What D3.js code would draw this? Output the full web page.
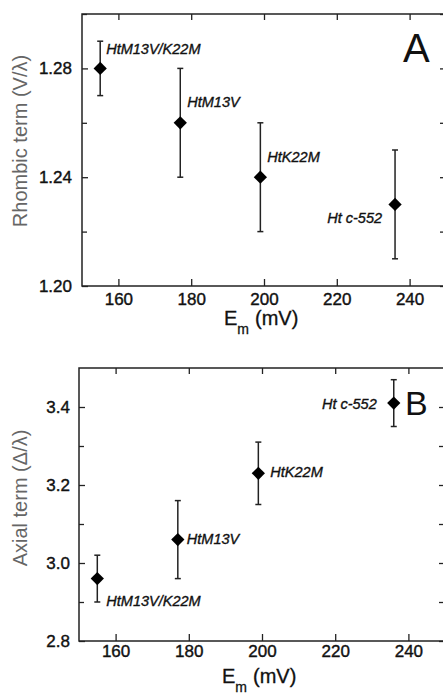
<!DOCTYPE html>
<html lang="en">
<meta charset="utf-8">
<script src="https://cdn.jsdelivr.net/npm/d3@7"></script>
<style type="text/css">
    body { margin: 0; background-color: #ffffff; }
    svg { display: block; font-family: "Liberation Sans", Arial, sans-serif; }
    .axis path { display: none; }
    .axis line { stroke: #222; stroke-width: 1.3px; }
    .axis text { font-size: 17px; fill: #111; stroke: #111; stroke-width: 0.4px; }
    .frame { fill: none; stroke: #222; stroke-width: 1.5px; }
    .err { stroke: #222; stroke-width: 1.5px; }
    .ytitle { font-size: 20px; fill: #666; }
    .xtitle { font-size: 20px; fill: #111; stroke: #111; stroke-width: 0.3px; }
    .ptlabel { font-size: 14.5px; font-style: italic; fill: #111; stroke: #111; stroke-width: 0.35px; }
    .panel { fill: #111; }
</style>
<body>
<script type="text/javascript">
// data
var emValues = [155, 177, 199, 236];          // E_m (mV)
var names = ["M13V/K22M", "M13V", "K22M", " c-552"];

var rhombic = [1.28, 1.26, 1.24, 1.23];
var rhombicLow = [1.27, 1.24, 1.22, 1.21];
var rhombicHigh = [1.29, 1.28, 1.26, 1.25];

var axial = [2.96, 3.06, 3.23, 3.41];
var axialLow = [2.90, 2.96, 3.15, 3.35];
var axialHigh = [3.02, 3.16, 3.31, 3.47];

var xTicks = [160, 180, 200, 220, 240];
var rhombicTicks = [1.20, 1.24, 1.28];
var rhombicMinor = [1.22, 1.26, 1.30];
var axialTicks = [2.8, 3.0, 3.2, 3.4];
var axialMinor = [2.9, 3.1, 3.3];

var width = 443, height = 694;

var svg = d3.select("body").append("svg")
    .attr("width", width)
    .attr("height", height);

// panel layout (pixel boxes, label offsets)
var panels = [
    {
        letter: "A", ytitle: "Rhombic term (V/\u03bb)",
        left: 82, right: 446, top: 14, bottom: 286,
        ydom: [1.20, 1.30], ymaj: rhombicTicks, ymin: rhombicMinor, fmt: ".2f",
        vals: rhombic, lo: rhombicLow, hi: rhombicHigh,
        xpad: 7, ypad: 10, titleY: 141, xtitleBase: 325, letterPos: [403, 62], letterSize: 40,
        lab: [[6, -14, "start"], [7, -16, "start"], [7, -15, "start"], [-13, 19, "end"]]
    },
    {
        letter: "B", ytitle: "Axial term (\u0394/\u03bb)",
        left: 79, right: 445, top: 368, bottom: 641,
        ydom: [2.8, 3.5], ymaj: axialTicks, ymin: axialMinor, fmt: ".1f",
        vals: axial, lo: axialLow, hi: axialHigh,
        xpad: 4, ypad: 9, titleY: 498, xtitleBase: 683, letterPos: [405, 415], letterSize: 34,
        lab: [[9, 27, "start"], [9, 4, "start"], [12, 4, "start"], [-17, 6, "end"]]
    }
];

panels.forEach(function(p) {
    var x = d3.scaleLinear().domain([150, 250]).range([p.left, p.right]);
    var y = d3.scaleLinear().domain(p.ydom).range([p.bottom, p.top]);
    var g = svg.append("g");

    // ticks, all pointing inward
    g.append("g").attr("class", "axis")
        .attr("transform", "translate(0," + p.bottom + ")")
        .call(d3.axisBottom(x).tickValues(xTicks).tickSize(-7).tickPadding(p.xpad));
    g.append("g").attr("class", "axis")
        .attr("transform", "translate(0," + p.top + ")")
        .call(d3.axisTop(x).tickValues(xTicks).tickSize(-6).tickFormat(""));
    g.append("g").attr("class", "axis")
        .attr("transform", "translate(" + p.left + ",0)")
        .call(d3.axisLeft(y).tickValues(p.ymaj).tickSize(-6).tickPadding(p.ypad).tickFormat(d3.format(p.fmt)));
    g.append("g").attr("class", "axis")
        .attr("transform", "translate(" + p.left + ",0)")
        .call(d3.axisLeft(y).tickValues(p.ymin).tickSize(-5).tickFormat(""));
    g.append("g").attr("class", "axis")
        .attr("transform", "translate(" + p.right + ",0)")
        .call(d3.axisRight(y).tickValues(p.ymaj.concat(p.ymin)).tickSize(-6).tickFormat(""));

    g.append("rect").attr("class", "frame")
        .attr("x", p.left).attr("y", p.top)
        .attr("width", p.right - p.left).attr("height", p.bottom - p.top);

    // error bars
    var idx = d3.range(emValues.length);
    var eb = g.selectAll(".eb").data(idx).enter().append("g");
    eb.append("line").attr("class", "err")
        .attr("x1", function(i){ return x(emValues[i]); })
        .attr("x2", function(i){ return x(emValues[i]); })
        .attr("y1", function(i){ return y(p.lo[i]); })
        .attr("y2", function(i){ return y(p.hi[i]); });
    [p.lo, p.hi].forEach(function(arr) {
        eb.append("line").attr("class", "err")
            .attr("x1", function(i){ return x(emValues[i]) - 3; })
            .attr("x2", function(i){ return x(emValues[i]) + 3; })
            .attr("y1", function(i){ return y(arr[i]); })
            .attr("y2", function(i){ return y(arr[i]); });
    });

    // diamond markers
    g.selectAll(".pt").data(idx).enter().append("path")
        .attr("d", d3.symbol().type(d3.symbolSquare).size(88))
        .attr("transform", function(i){
            return "translate(" + x(emValues[i]) + "," + y(p.vals[i]) + ") rotate(45)";
        })
        .style("fill", "#000");

    // point labels
    var t = g.selectAll(".ptlabel").data(idx).enter().append("text")
        .attr("class", "ptlabel")
        .attr("x", function(i){ return x(emValues[i]) + p.lab[i][0]; })
        .attr("y", function(i){ return y(p.vals[i]) + p.lab[i][1]; })
        .attr("text-anchor", function(i){ return p.lab[i][2]; });
    t.append("tspan").text("Ht");
    t.append("tspan").text(function(i){ return names[i]; });

    // y title
    var cx = 27;
    g.append("text").attr("class", "ytitle")
        .attr("transform", "translate(" + cx + "," + p.titleY + ") rotate(-90)")
        .attr("text-anchor", "middle")
        .text(p.ytitle);

    // x title: E_m (mV)
    var xt = g.append("text").attr("class", "xtitle")
        .attr("x", (p.left + p.right) / 2 - 40)
        .attr("y", p.xtitleBase);
    xt.append("tspan").text("E");
    xt.append("tspan").attr("dy", 9).style("font-size", "14px").text("m");
    xt.append("tspan").attr("dy", -9).attr("dx", 6).text("(mV)");

    // panel letter
    g.append("text").attr("class", "panel")
        .attr("x", p.letterPos[0]).attr("y", p.letterPos[1])
        .style("font-size", p.letterSize + "px")
        .text(p.letter);
});
</script>
</body>
</html>
